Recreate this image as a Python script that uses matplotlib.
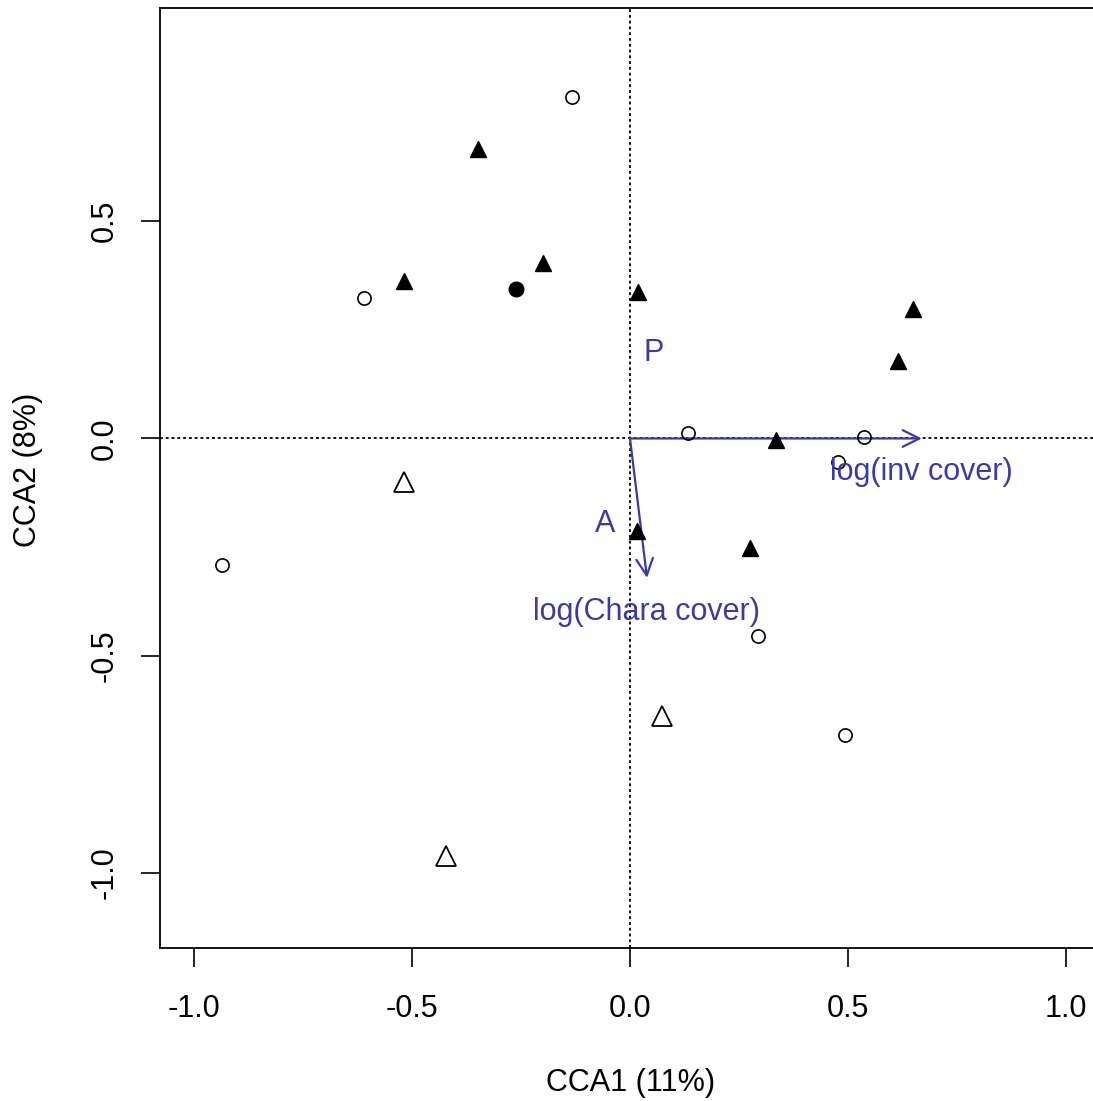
#!/usr/bin/env python3
# -*- coding: utf-8 -*-

import matplotlib;
matplotlib.use("Agg");
import matplotlib.pyplot as plt;

#site scores, grouped by plotting symbol
openCircleX = [-0.133, -0.611, -0.937, 0.133, 0.537, 0.478, 0.294, 0.494];
openCircleY = [0.786, 0.323, -0.291, 0.013, 0.003, -0.054, -0.455, -0.683];
filledTriX = [-0.349, -0.519, -0.200, 0.018, 0.650, 0.615, 0.335, 0.016, 0.276];
filledTriY = [0.666, 0.362, 0.404, 0.337, 0.298, 0.178, -0.003, -0.213, -0.252];
filledCircleX = [-0.262];
filledCircleY = [0.344];
openTriX = [-0.519, 0.073, -0.422];
openTriY = [-0.100, -0.639, -0.961];

#environmental vectors (biplot arrows) and centroid labels
vectorNames = ["log(inv cover)", "log(Chara cover)"];
vectorX = [0.670, 0.039];
vectorY = [0.0, -0.321];
vectorLabelX = [0.670, 0.039];
vectorLabelY = [-0.077, -0.399];
centroidNames = ["P", "A"];
centroidX = [0.055, -0.057];
centroidY = [0.197, -0.198];

xTicks = [-1.0, -0.5, 0.0, 0.5, 1.0];
yTicks = [-1.0, -0.5, 0.0, 0.5];
xLabel = "CCA1 (11%)";
yLabel = "CCA2 (8%)";

blue = "#3b3ba3";
plt.rcParams["font.family"] = ["Liberation Sans", "DejaVu Sans"];

fig = plt.figure(figsize=(10.93, 11.01), dpi=100);
ax = fig.add_axes([160/1093, 153/1101, 940/1093, 940/1101]); #right edge runs off the canvas like the original
ax.set_xlim(-1.079, 1.079);
ax.set_ylim(-1.173, 0.991);

#dotted cross-hairs through the origin
ax.axhline(0, color="black", lw=1.3, ls=(0, (1.6, 1.6)), zorder=1);
ax.axvline(0, color="black", lw=1.3, ls=(0, (1.6, 1.6)), zorder=1);

#arrows for the fitted vectors
for i in range(len(vectorNames)):
    ax.annotate("", xy=(vectorX[i], vectorY[i]), xytext=(0, 0),
                arrowprops=dict(arrowstyle="->,head_length=0.6,head_width=0.3", mutation_scale=20,
                                color=blue, lw=1.6, shrinkA=0, shrinkB=0), zorder=2);
    ax.text(vectorLabelX[i], vectorLabelY[i], vectorNames[i], color=blue, fontsize=22,
            ha="center", va="center", zorder=4);
for i in range(len(centroidNames)):
    ax.text(centroidX[i], centroidY[i], centroidNames[i], color=blue, fontsize=22,
            ha="center", va="center", zorder=4);

#site points
ax.plot(openCircleX, openCircleY, "o", ms=9.5, mfc="none", mec="black", mew=1.2, zorder=3);
ax.plot(filledCircleX, filledCircleY, "o", ms=10.5, mfc="black", mec="black", zorder=3);
ax.plot(filledTriX, filledTriY, "^", ms=12, mfc="black", mec="black", mew=1, zorder=3);
ax.plot(openTriX, openTriY, "^", ms=15, mfc="none", mec="black", mew=1.3, zorder=3);

ax.set_xticks(xTicks);
ax.set_xticklabels(["%.1f" % t for t in xTicks]);
ax.set_yticks(yTicks);
ax.set_yticklabels(["%.1f" % t for t in yTicks], rotation=90, va="center");
ax.tick_params(axis="both", labelsize=22, length=14, width=1.2, colors="black");
ax.tick_params(axis="x", pad=19);
ax.tick_params(axis="y", pad=15);
for s in ax.spines.values():
    s.set_linewidth(1.3);

#axis titles placed on the figure so they sit where R put them
fig.text(631/1093, 1 - 1083/1101, xLabel, fontsize=22, ha="center", va="center");
fig.text(28/1093, 1 - 470/1101, yLabel, fontsize=22, ha="center", va="center", rotation=90);

plt.savefig("out.png", dpi=100);
plt.close();
